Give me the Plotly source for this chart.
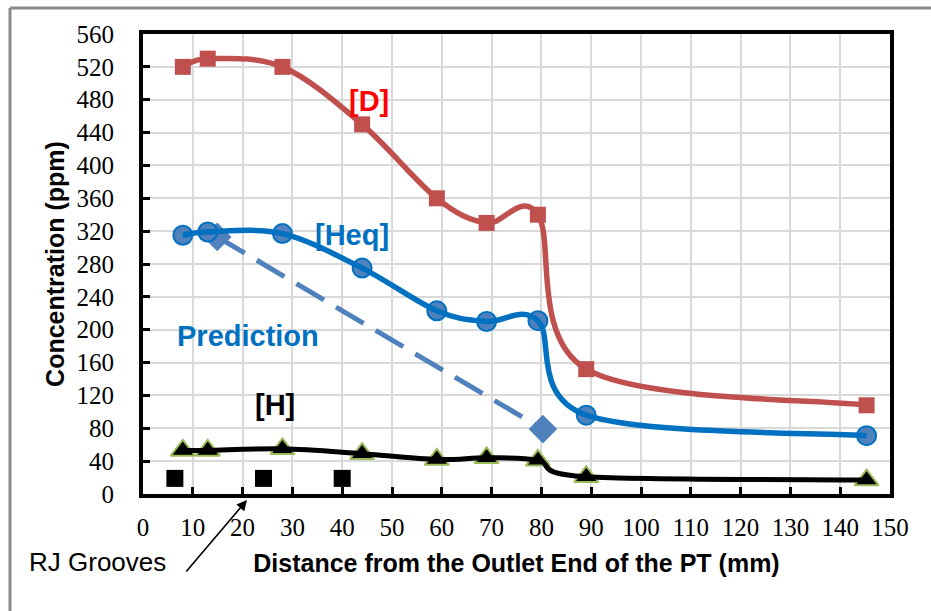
import plotly.graph_objects as go

# ---- data ----
x_pos = [8, 13, 28, 44, 59, 69, 79.3, 89, 145.3]
d_conc = [520, 530, 520, 450, 360, 330, 340, 152, 108]
heq_conc = [315, 319, 317, 275, 223, 210, 211, 96, 71]
h_conc = [53, 53, 55, 49, 42, 44, 41, 21, 17]
pred_x = [14.9, 80.3]
pred_y = [313, 79]
groove_x = [6.4, 24.2, 40]
groove_y = [19, 19, 19]

x_ticks = list(range(0, 151, 10))
y_ticks = list(range(0, 561, 40))

D_RED = "#C0504D"
HEQ_BLUE = "#0070C0"
MARK_BLUE = "#4F81BD"

# plot-area geometry (pixels)
PL, PR, PT, PB = 143, 890, 34, 494
PW, PH = PR - PL, PB - PT


def px_to_paper(px, py):
    return (px - PL) / PW, (PB - py) / PH


def smooth_path(xs, ys):
    """Excel-style smoothed line: cubic Bezier segments (Catmull-Rom, 1/6)."""
    n = len(xs)
    pts = list(zip(xs, ys))
    parts = [f"M {pts[0][0]},{pts[0][1]}"]
    for i in range(n - 1):
        p0 = pts[i - 1] if i > 0 else pts[i]
        p1 = pts[i]
        p2 = pts[i + 1]
        p3 = pts[i + 2] if i + 2 < n else pts[i + 1]
        c1 = (p1[0] + (p2[0] - p0[0]) / 6, p1[1] + (p2[1] - p0[1]) / 6)
        c2 = (p2[0] - (p3[0] - p1[0]) / 6, p2[1] - (p3[1] - p1[1]) / 6)
        parts.append(f"C {c1[0]},{c1[1]} {c2[0]},{c2[1]} {p2[0]},{p2[1]}")
    return " ".join(parts)


fig = go.Figure()

for ys, color, w in [(d_conc, D_RED, 5.5), (heq_conc, HEQ_BLUE, 5.5), (h_conc, "black", 5)]:
    fig.add_shape(type="path", xref="x", yref="y", path=smooth_path(x_pos, ys),
                  line=dict(color=color, width=w), layer="above")

fig.add_trace(go.Scatter(
    x=pred_x, y=pred_y, mode="lines+markers",
    line=dict(color=MARK_BLUE, width=5, dash="32px,14px"),
    marker=dict(symbol="diamond", size=22, color=MARK_BLUE),
))
fig.add_trace(go.Scatter(
    x=x_pos, y=d_conc, mode="markers",
    marker=dict(symbol="square", size=16, color=D_RED),
))
fig.add_trace(go.Scatter(
    x=x_pos, y=heq_conc, mode="markers",
    marker=dict(symbol="circle", size=19, color=MARK_BLUE,
                line=dict(color=HEQ_BLUE, width=2)),
))
fig.add_trace(go.Scatter(
    x=x_pos, y=h_conc, mode="markers",
    marker=dict(symbol="triangle-up", size=21, color="black",
                line=dict(color="#9BBB59", width=2)),
))
fig.add_trace(go.Scatter(
    x=groove_x, y=groove_y, mode="markers",
    marker=dict(symbol="square", size=17, color="black"),
))

bold = "Liberation Sans"
fig.add_annotation(x=45.3, y=478, text="<b>[D]</b>", showarrow=False,
                   font=dict(family=bold, size=29, color="#FF0000"))
fig.add_annotation(x=41.9, y=315, text="<b>[Heq]</b>", showarrow=False,
                   font=dict(family=bold, size=29, color=HEQ_BLUE))
fig.add_annotation(x=21, y=192, text="<b>Prediction</b>", showarrow=False,
                   font=dict(family=bold, size=29, color=HEQ_BLUE))
fig.add_annotation(x=26.6, y=108, text="<b>[H]</b>", showarrow=False,
                   font=dict(family=bold, size=29, color="black"))

# arrow to grooves
hx, hy = px_to_paper(247, 500)
fig.add_annotation(x=hx, y=hy, xref="paper", yref="paper", ax=-62, ay=73,
                   text="", showarrow=True,
                   arrowhead=2, arrowsize=1.3, arrowwidth=1.6, arrowcolor="black")
tx, ty = px_to_paper(97, 562)
fig.add_annotation(x=tx, y=ty, xref="paper", yref="paper", xanchor="center", yanchor="middle",
                   text="RJ Grooves", showarrow=False,
                   font=dict(family="Liberation Sans", size=26, color="black"))

# outer gray frame (left and top edges visible)
fx0, fy0 = px_to_paper(10, 8)
fx1, fy1 = px_to_paper(931, 611)
fig.add_shape(type="line", xref="paper", yref="paper", x0=fx0, x1=fx0, y0=fy0, y1=fy1,
              line=dict(color="#8C8C8C", width=3), layer="below")
fig.add_shape(type="line", xref="paper", yref="paper", x0=fx0, x1=fx1, y0=fy0, y1=fy0,
              line=dict(color="#8C8C8C", width=3), layer="below")

axis_common = dict(
    showline=True, linecolor="black", linewidth=4, mirror=True,
    ticks="inside", ticklen=7, tickwidth=2.5, tickcolor="black",
    showgrid=True, gridcolor="#D9D9D9", gridwidth=2, zeroline=False,
    tickfont=dict(family="Liberation Serif", size=25, color="black"),
)

fig.update_layout(
    width=931, height=611,
    margin=dict(l=PL, r=931 - PR, t=PT, b=611 - PB),
    paper_bgcolor="white", plot_bgcolor="white",
    showlegend=False,
    xaxis=dict(range=[0, 150], tickvals=x_ticks, ticklabelstandoff=8, title=dict(
        text="<b>Distance from the Outlet End of the PT (mm)</b>",
        font=dict(family=bold, size=25, color="black"), standoff=15),
        **axis_common),
    yaxis=dict(range=[0, 560], tickvals=y_ticks, ticklabelstandoff=20, title=dict(
        text="<b>Concentration (ppm)</b>",
        font=dict(family=bold, size=25, color="black"), standoff=6),
        **axis_common),
)

fig.write_html("out.html")
